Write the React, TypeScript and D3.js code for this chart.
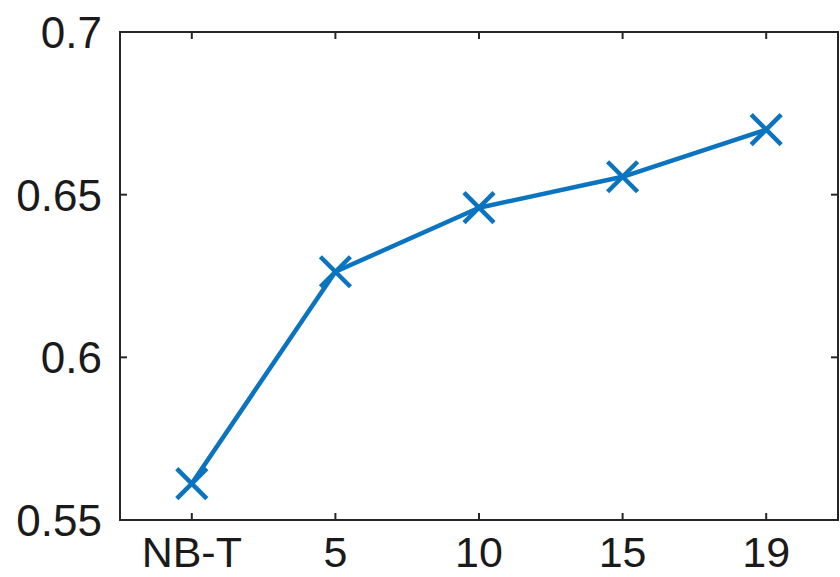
import React from "react";
import * as d3 from "d3";

// data
const categories = ["NB-T", "5", "10", "15", "19"];
const values = [0.5612, 0.6263, 0.646, 0.6555, 0.67];
const yTicks = [0.55, 0.6, 0.65, 0.7];

const width = 840;
const height = 577;
const margin = { left: 120, right: 2, top: 32, bottom: 57 };

const App = () => {
  const x = d3.scaleLinear([0.5, categories.length + 0.5], [margin.left, width - margin.right]);
  const y = d3.scaleLinear([0.55, 0.7], [height - margin.bottom, margin.top]);
  const xi = d3.range(categories.length).map(i => i + 1);

  const line = d3.line<number>()
    .x((d, i) => x(xi[i]))
    .y(d => y(d));

  const axisColor = "#262626";
  const lineColor = "#0b74c0";
  const tickLen = 7;
  const m = 15; // marker half size
  const fontFamily = "'Liberation Sans', Arial, Helvetica, sans-serif";

  const x0 = margin.left, x1 = width - margin.right;
  const y0 = height - margin.bottom, y1 = margin.top;

  return (
    <svg width={width} height={height} style={{ position: "absolute", left: 0, top: 0, background: "white" }}
      fontFamily={fontFamily}>
      {/* data line */}
      <path d={line(values) ?? ""} fill="none" stroke={lineColor} strokeWidth={4.5} strokeLinejoin="round" />
      {values.map((v, i) => (
        <g key={i} transform={`translate(${x(xi[i])},${y(v)})`} stroke={lineColor} strokeWidth={4.5}>
          <line x1={-m} y1={-m} x2={m} y2={m} />
          <line x1={-m} y1={m} x2={m} y2={-m} />
        </g>
      ))}

      {/* box */}
      <rect x={x0} y={y1} width={x1 - x0} height={y0 - y1} fill="none" stroke={axisColor} strokeWidth={2} />

      {/* x ticks */}
      {xi.map((t, i) => (
        <g key={"x" + i}>
          <line x1={x(t)} x2={x(t)} y1={y0} y2={y0 - tickLen} stroke={axisColor} strokeWidth={2} />
          <line x1={x(t)} x2={x(t)} y1={y1} y2={y1 + tickLen} stroke={axisColor} strokeWidth={2} />
          <text x={x(t)} y={567} textAnchor="middle" fontSize={43} fill="#1a1a1a">{categories[i]}</text>
        </g>
      ))}

      {/* y ticks */}
      {yTicks.map((t, i) => (
        <g key={"y" + i}>
          <line x1={x0} x2={x0 + tickLen} y1={y(t)} y2={y(t)} stroke={axisColor} strokeWidth={2} />
          <line x1={x1} x2={x1 - tickLen} y1={y(t)} y2={y(t)} stroke={axisColor} strokeWidth={2} />
          <text x={102} y={y(t)} dy="0.36em" textAnchor="end" fontSize={44} fill="#1a1a1a">{String(t)}</text>
        </g>
      ))}
    </svg>
  );
};

export default App;
